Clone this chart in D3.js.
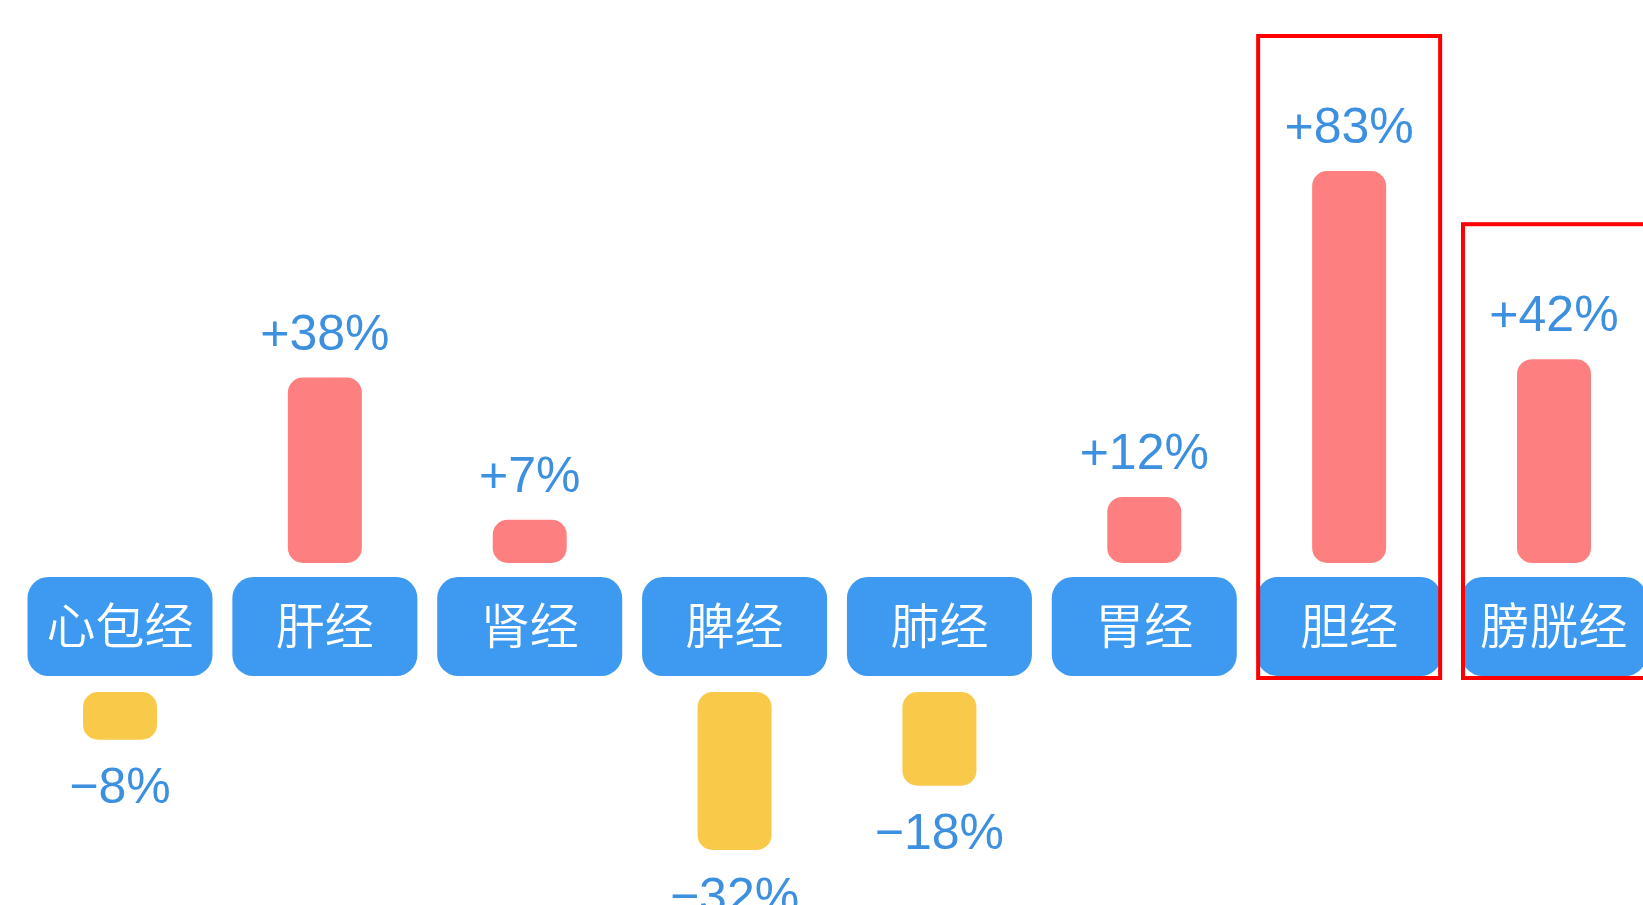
<!DOCTYPE html>
<html>
<head>
<meta charset="utf-8">
<script src="https://cdn.jsdelivr.net/npm/d3@7"></script>
<style>
  html, body { margin: 0; padding: 0; background: #ffffff; overflow: hidden; }
  svg { display: block; }
</style>
</head>
<body>
<svg id="chart" width="1643" height="905"></svg>
<script>
// ---- data ----
const categories = ["心包经", "肝经", "肾经", "脾经", "肺经", "胃经", "胆经", "膀胱经"];
const changes = [-8, 38, 7, -32, -18, 12, 83, 42];
const valueLabels = ["−8%", "+38%", "+7%", "−32%", "−18%", "+12%", "+83%", "+42%"];
const highlighted = ["胆经", "膀胱经"];

// ---- layout ----
const svg = d3.select("#chart");

const x = d3.scalePoint().domain(categories).range([120, 1554]);
const h = d3.scaleLinear().domain([0, 83]).range([11, 392]);

const boxW = 185, boxTop = 577, boxH = 99;
const posBase = 563;   // bottom of positive bars
const negBase = 692;   // top of negative bars
const barW = 74;

const colBox = "#3d9af0", colUp = "#fe7f7f", colDown = "#f9ca4a", colText = "#3d90e0";

const data = categories.map((c, i) => ({ cat: c, v: changes[i], label: valueLabels[i] }));

const g = svg.append("g");

// category boxes
g.selectAll("rect.box").data(data).join("rect")
  .attr("class", "box")
  .attr("x", d => x(d.cat) - boxW / 2)
  .attr("y", boxTop)
  .attr("width", boxW)
  .attr("height", boxH)
  .attr("rx", 21)
  .attr("fill", colBox);

g.selectAll("text.cat").data(data).join("text")
  .attr("class", "cat")
  .attr("x", d => x(d.cat))
  .attr("y", boxTop + boxH / 2)
  .attr("dy", "0.36em")
  .attr("text-anchor", "middle")
  .attr("fill", "#ffffff")
  .style("font-family", "'Noto Sans CJK SC', 'Noto Sans CJK JP', sans-serif")
  .style("font-weight", 350)
  .style("font-size", "49px")
  .text(d => d.cat);

// bars
g.selectAll("rect.bar").data(data).join("rect")
  .attr("class", "bar")
  .attr("x", d => x(d.cat) - barW / 2)
  .attr("y", d => d.v >= 0 ? posBase - h(Math.abs(d.v)) : negBase)
  .attr("width", barW)
  .attr("height", d => h(Math.abs(d.v)))
  .attr("rx", 15)
  .attr("fill", d => d.v >= 0 ? colUp : colDown);

// value labels
g.selectAll("text.val").data(data).join("text")
  .attr("class", "val")
  .attr("x", d => x(d.cat))
  .attr("y", d => d.v >= 0 ? posBase - h(Math.abs(d.v)) - 28 : negBase + h(Math.abs(d.v)) + 63)
  .attr("text-anchor", "middle")
  .attr("fill", colText)
  .style("font-family", "'Liberation Sans', Arial, sans-serif")
  .style("font-size", "50px")
  .text(d => d.label);

// highlight frames
const hl = data.filter(d => highlighted.includes(d.cat));
g.selectAll("rect.hl").data(hl).join("rect")
  .attr("class", "hl")
  .attr("x", d => x(d.cat) - 91)
  .attr("y", d => posBase - h(d.v) - 135)
  .attr("width", 182)
  .attr("height", d => (boxTop + boxH + 2) - (posBase - h(d.v) - 135))
  .attr("fill", "none")
  .attr("stroke", "#ff0000")
  .attr("stroke-width", 4);
</script>
</body>
</html>
